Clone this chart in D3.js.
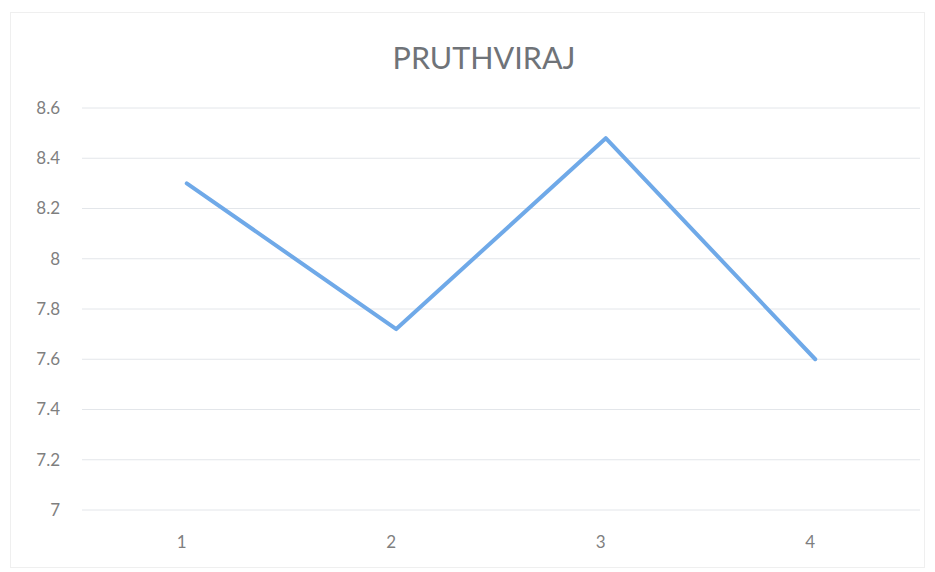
<!DOCTYPE html>
<html><head><meta charset="utf-8">
<script src="https://cdn.jsdelivr.net/npm/d3@7"></script>
<style>body{margin:0;background:#fff}svg{display:block}</style>
</head><body>
<svg id="c" width="935" height="572"></svg>
<script>
const title = "PRUTHVIRAJ";
const categories = ["1","2","3","4"];
const values = [8.3, 7.72, 8.48, 7.6];
const yTicks = [7, 7.2, 7.4, 7.6, 7.8, 8, 8.2, 8.4, 8.6];

const svg = d3.select("#c");
const W = 935, H = 572;
const m = {left: 82, right: 15, top: 108, bottom: 62};

svg.append("rect").attr("x",10.5).attr("y",12.5).attr("width",914).attr("height",555)
  .attr("fill","#fff").attr("stroke","#efefef");

const x = d3.scaleBand().domain(categories).range([m.left, W - m.right]);
const y = d3.scaleLinear().domain([7, 8.6]).range([H - m.bottom, m.top]);

// gridlines
svg.append("g").selectAll("line").data(yTicks).join("line")
  .attr("x1", m.left).attr("x2", W - m.right)
  .attr("y1", d => y(d)).attr("y2", d => y(d))
  .attr("stroke", "#e3e6ea").attr("stroke-width", 1);

// y axis
const yAxis = d3.axisLeft(y).tickValues(yTicks).tickSize(0).tickPadding(0)
  .tickFormat(d => String(+d.toFixed(1)));
const gy = svg.append("g").attr("transform", `translate(60,0)`).call(yAxis);
gy.select(".domain").remove();
gy.selectAll("text").attr("fill", "#7f7f7f").style("font-family", "Lato, 'Open Sans', sans-serif").style("font-size", "17px");

// x axis
const xAxis = d3.axisBottom(x).tickSize(0).tickPadding(0);
const gx = svg.append("g").attr("transform", `translate(-5,${H - m.bottom + 26})`).call(xAxis);
gx.select(".domain").remove();
gx.selectAll("text").attr("fill", "#7f7f7f").style("font-family", "Lato, 'Open Sans', sans-serif").style("font-size", "17px");

// line
const line = d3.line().x((d, i) => x(categories[i]) + x.bandwidth() / 2).y(d => y(d));
svg.append("path").datum(values).attr("d", line)
  .attr("fill", "none").attr("stroke", "#6fa9e8").attr("stroke-width", 4)
  .attr("stroke-linejoin", "round").attr("stroke-linecap", "round");

// title
svg.append("text").attr("x", 484).attr("y", 69).attr("text-anchor", "middle")
  .attr("fill", "#6f7378").style("font-family", "Lato, 'Open Sans', sans-serif").style("font-size", "30.5px")
  .text(title);
</script>
</body></html>
